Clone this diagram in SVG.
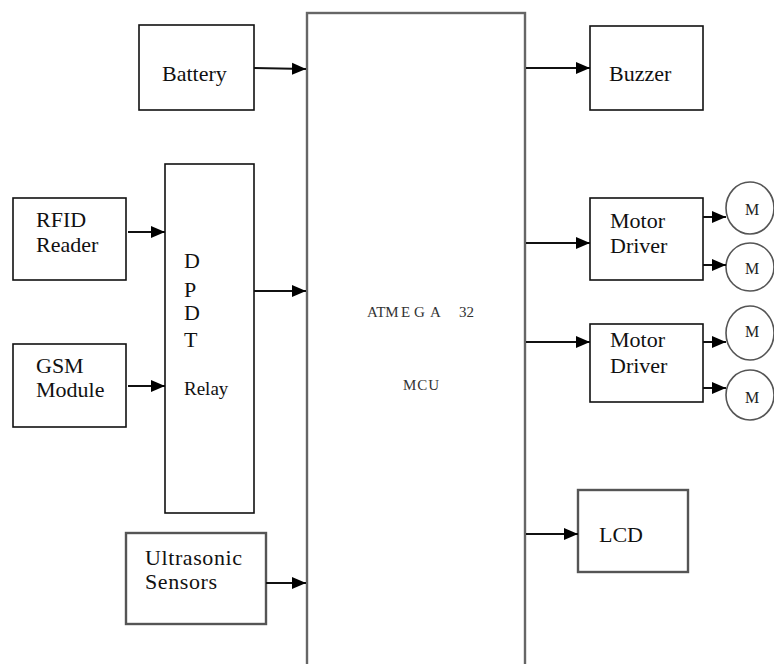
<svg xmlns="http://www.w3.org/2000/svg" width="774" height="664" viewBox="0 0 774 664">
<style>
.box{fill:#fff;stroke:#111;stroke-width:1.6}
.gbox{fill:#fff;stroke:#555;stroke-width:2.4}
.mcu{fill:#fff;stroke:#666;stroke-width:2.4}
text{font-family:'Liberation Serif','DejaVu Serif','Times New Roman',serif}
.t{font-size:22px;fill:#111}
.s{font-size:19px;fill:#111}
.m{font-size:15px;fill:#333}
.mm{font-size:16px;fill:#222}
.c{stroke:#111;stroke-width:2;fill:none;marker-end:url(#ah)}
.circ{fill:#fff;stroke:#555;stroke-width:1.6}
</style>
<defs>
<marker id="ah" markerUnits="userSpaceOnUse" markerWidth="16" markerHeight="14" refX="14" refY="7" orient="auto">
<path d="M0,1 L14,7 L0,13 Z" fill="#000"/>
</marker>
</defs>
<g id="mcu">
<rect class="mcu" x="307" y="13" width="218" height="665"/>
<text class="m" y="317" font-family="Liberation Serif, serif"><tspan x="367">ATM</tspan><tspan x="401">E</tspan><tspan x="414">G</tspan><tspan x="430">A</tspan><tspan x="459">32</tspan></text>
<text class="m" x="403" y="390" letter-spacing="1" font-family="Liberation Serif, serif">MCU</text>
</g>
<g id="battery">
<rect class="box" x="139" y="25" width="115" height="85"/>
<text class="t" x="162" y="81" font-family="Liberation Serif, serif">Battery</text>
</g>
<g id="rfid">
<rect class="box" x="13" y="198" width="113" height="82"/>
<text class="t" x="36" y="227" font-family="Liberation Serif, serif">RFID</text>
<text class="t" x="36" y="252" font-family="Liberation Serif, serif">Reader</text>
</g>
<g id="gsm">
<rect class="box" x="13" y="344" width="113" height="83"/>
<text class="t" x="36" y="373" font-family="Liberation Serif, serif">GSM</text>
<text class="t" x="36" y="397" font-family="Liberation Serif, serif">Module</text>
</g>
<g id="dpdt">
<rect class="box" x="165" y="164" width="89" height="349"/>
<text class="t" x="184" y="268" font-family="Liberation Serif, serif">D</text>
<text class="t" x="184" y="297" font-family="Liberation Serif, serif">P</text>
<text class="t" x="184" y="320" font-family="Liberation Serif, serif">D</text>
<text class="t" x="184" y="347" font-family="Liberation Serif, serif">T</text>
<text class="s" x="184" y="395" font-family="Liberation Serif, serif">Relay</text>
</g>
<g id="ultrasonic">
<rect class="gbox" x="126" y="533" width="140" height="91"/>
<text class="t" x="145" y="565" letter-spacing="0.6" font-family="Liberation Serif, serif">Ultrasonic</text>
<text class="t" x="145" y="589" letter-spacing="0.6" font-family="Liberation Serif, serif">Sensors</text>
</g>
<g id="buzzer">
<rect class="box" x="590" y="26" width="113" height="84"/>
<text class="t" x="609" y="81" font-family="Liberation Serif, serif">Buzzer</text>
</g>
<g id="driver1">
<rect class="box" x="590" y="198" width="113" height="82"/>
<text class="t" x="610" y="228" font-family="Liberation Serif, serif">Motor</text>
<text class="t" x="610" y="253" font-family="Liberation Serif, serif">Driver</text>
</g>
<g id="driver2">
<rect class="box" x="590" y="324" width="113" height="78"/>
<text class="t" x="610" y="347" font-family="Liberation Serif, serif">Motor</text>
<text class="t" x="610" y="373" font-family="Liberation Serif, serif">Driver</text>
</g>
<g id="lcd">
<rect class="gbox" x="578" y="490" width="110" height="82"/>
<text class="t" x="599" y="542" font-family="Liberation Serif, serif">LCD</text>
</g>
<g id="motor1"><ellipse class="circ" cx="750" cy="208" rx="24" ry="26"/><text class="mm" x="752" y="215" text-anchor="middle" font-family="Liberation Serif, serif">M</text></g>
<g id="motor2"><ellipse class="circ" cx="750" cy="267" rx="24" ry="24"/><text class="mm" x="752" y="274" text-anchor="middle" font-family="Liberation Serif, serif">M</text></g>
<g id="motor3"><ellipse class="circ" cx="750" cy="333" rx="24" ry="27"/><text class="mm" x="752" y="337" text-anchor="middle" font-family="Liberation Serif, serif">M</text></g>
<g id="motor4"><ellipse class="circ" cx="750" cy="395" rx="24" ry="25"/><text class="mm" x="752" y="403" text-anchor="middle" font-family="Liberation Serif, serif">M</text></g>
<g id="connectors">
<path class="c" d="M254,68 L306,69"/>
<path class="c" d="M128,232 L165,232"/>
<path class="c" d="M128,386 L165,386"/>
<path class="c" d="M254,291 L306,291"/>
<path class="c" d="M266,583 L306,583"/>
<path class="c" d="M526,68 L590,68"/>
<path class="c" d="M526,243 L590,243"/>
<path class="c" d="M526,342 L590,342"/>
<path class="c" d="M526,534 L578,534"/>
<path class="c" d="M703,217 L726,217"/>
<path class="c" d="M703,265 L726,265"/>
<path class="c" d="M703,342 L726,342"/>
<path class="c" d="M703,388 L726,388"/>
</g>
</svg>
